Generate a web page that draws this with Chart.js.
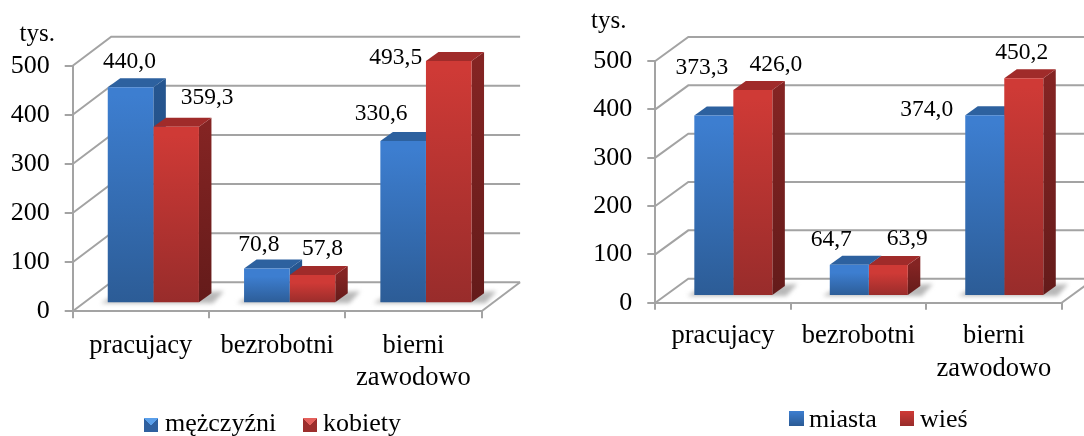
<!DOCTYPE html>
<html>
<head>
<meta charset="utf-8">
<script src="https://cdn.jsdelivr.net/npm/chart.js@4"></script>
<style>
  html, body { margin: 0; padding: 0; background: #fff; }
  body { position: relative; width: 1084px; height: 436px; overflow: hidden; font-family: "Liberation Serif", serif; color: #000; }
  canvas { position: absolute; top: 0; }
  .legend { position: absolute; font-size: 26px; line-height: 28px; white-space: nowrap; }
  .legend span { position: absolute; top: 0; }
  .legend i { position: absolute; display: block; }
</style>
</head>
<body>
<canvas id="left" width="540" height="436" style="left:0"></canvas>
<canvas id="right" width="504" height="436" style="left:580px"></canvas>

<div class="legend" style="left:0;top:409px">
  <i style="left:144px;top:9px;width:14px;height:14px;background:conic-gradient(from -45deg,#5a9fea 0 90deg,#2f609f 90deg 270deg,#2f609f 270deg)"></i>
  <span style="left:165px">mężczyźni</span>
  <i style="left:303px;top:9px;width:14px;height:14px;background:conic-gradient(from -45deg,#e4605c 0 90deg,#9c2e2c 90deg 270deg,#9c2e2c 270deg)"></i>
  <span style="left:323px">kobiety</span>
</div>
<div class="legend" style="left:0;top:405px">
  <i style="left:789px;top:6px;width:15px;height:15px;background:linear-gradient(#3d7ed0,#2a5a94)"></i>
  <span style="left:809px">miasta</span>
  <i style="left:900px;top:6px;width:14px;height:15px;background:linear-gradient(#cf3a36,#982c2b)"></i>
  <span style="left:920px">wieś</span>
</div>

<script>
// dane
const categories = ['pracujacy', 'bezrobotni', ['bierni', 'zawodowo']];
const genderNames = ['mężczyźni', 'kobiety'];
const menValues = [440.0, 70.8, 330.6];
const womenValues = [359.3, 57.8, 493.5];
const placeNames = ['miasta', 'wieś'];
const cityValues = [373.3, 64.7, 374.0];
const villageValues = [426.0, 63.9, 450.2];
const unitLabel = 'tys.';

const FONT = '"Liberation Serif", serif';
const GRID = '#a3a3a3';
const BLUE = { top: '#3d7ed0', bottom: '#2c5c96', cap: '#2d619f', sideTop: '#265690', sideBottom: '#1f4a7c' };
const RED = { top: '#cf3a36', bottom: '#982c2b', cap: '#a02b2a', sideTop: '#842423', sideBottom: '#641b1a' };

function vGradient(ctx, y0, y1, c0, c1) {
  const g = ctx.createLinearGradient(0, y0, 0, y1);
  g.addColorStop(0, c0);
  g.addColorStop(1, c1);
  return g;
}

function poly(ctx, pts, fill) {
  ctx.beginPath();
  pts.forEach((p, i) => i ? ctx.lineTo(p[0], p[1]) : ctx.moveTo(p[0], p[1]));
  ctx.closePath();
  ctx.fillStyle = fill;
  ctx.fill();
}

// sciany i cienie, boki slupkow, etykiety
function depthPlugin(o) {
  return {
    id: 'depth',
    beforeDatasetsDraw(chart) {
      const { ctx, chartArea, scales } = chart;
      const { left, right, bottom } = chartArea;
      const wx = o.wall[0], wy = o.wall[1];
      ctx.save();
      ctx.strokeStyle = GRID;
      ctx.lineWidth = 2;
      scales.y.ticks.forEach(t => {
        const y = scales.y.getPixelForValue(t.value);
        ctx.beginPath();
        ctx.moveTo(left, y);
        ctx.lineTo(left + wx, y + wy);
        ctx.lineTo(right + wx, y + wy);
        ctx.stroke();
      });
      ctx.beginPath();
      ctx.moveTo(right, bottom);
      ctx.lineTo(right + wx, bottom + wy);
      ctx.stroke();
      ctx.restore();

      // cien na podlodze
      ctx.save();
      ctx.translate(o.shift[0], o.shift[1]);
      ctx.filter = 'blur(2px)';
      chart.getDatasetMeta(0).data.forEach((bar, i) => {
        const other = chart.getDatasetMeta(1).data[i];
        const x0 = bar.x - bar.width / 2, x1 = other.x + other.width / 2;
        poly(ctx, [[x0 - 7, bar.base + 1], [x0 + 5, bar.base - 6], [x1 + 25, bar.base - 11], [x1 + 14, bar.base + 1]], '#b8b8b8');
      });
      ctx.restore();

      ctx.save();
      ctx.translate(o.shift[0], o.shift[1]);
      // najpierw boki niebieskich, potem czerwonych; przody rysuje Chart.js
      const dx = o.side[0], dy = o.side[1];
      [BLUE, RED].forEach((c, d) => {
        chart.getDatasetMeta(d).data.forEach(bar => {
          const r = bar.x + bar.width / 2, l = bar.x - bar.width / 2;
          poly(ctx, [[r, bar.y], [r + dx, bar.y + dy], [r + dx, bar.base + dy], [r, bar.base]],
            vGradient(ctx, bar.y, bar.base, c.sideTop, c.sideBottom));
          poly(ctx, [[l, bar.y], [l + dx, bar.y + dy], [r + dx, bar.y + dy], [r, bar.y]], c.cap);
        });
      });
    },
    afterDatasetsDraw(chart) {
      const { ctx } = chart;
      ctx.restore();
      ctx.save();
      ctx.fillStyle = '#000';
      ctx.font = '23.5px ' + FONT;
      ctx.textAlign = 'center';
      ctx.textBaseline = 'middle';
      chart.data.datasets.forEach((ds, d) => {
        chart.getDatasetMeta(d).data.forEach((bar, i) => {
          const text = ds.data[i].toFixed(1).replace('.', ',');
          ctx.fillText(text, bar.x + o.shift[0] + o.labelShift[d][i][0], bar.y + o.shift[1] + o.labelShift[d][i][1]);
        });
      });
      ctx.font = '25px ' + FONT;
      ctx.textAlign = 'left';
      ctx.textBaseline = 'alphabetic';
      ctx.fillText(unitLabel, o.unitAt[0], o.unitAt[1]);
      ctx.restore();
    }
  };
}

function barColor(c) {
  return context => {
    const y = context.chart.scales.y;
    if (!y || context.raw === undefined) return c.top;
    const y0 = y.getPixelForValue(context.raw), y1 = y.getPixelForValue(0);
    if (!isFinite(y0) || !isFinite(y1)) return c.top;
    return vGradient(context.chart.ctx, y0 + 8, y1, c.top, c.bottom);
  };
}

function makeChart(id, names, series, o) {
  return new Chart(document.getElementById(id), {
    type: 'bar',
    data: {
      labels: categories,
      datasets: [
        { label: names[0], data: series[0], backgroundColor: barColor(BLUE), clip: false },
        { label: names[1], data: series[1], backgroundColor: barColor(RED), clip: false }
      ]
    },
    plugins: [depthPlugin(o)],
    options: {
      responsive: false,
      animation: false,
      devicePixelRatio: 1,
      layout: { padding: { left: 0, top: o.top, right: o.right, bottom: 0 } },
      datasets: { bar: { categoryPercentage: o.groupWidth, barPercentage: 1, borderWidth: 0 } },
      plugins: { legend: { display: false }, tooltip: { enabled: false } },
      scales: {
        x: {
          afterFit: s => { s.height = o.xHeight; },
          grid: { drawOnChartArea: false, color: GRID, lineWidth: 2, tickLength: 7 },
          border: { color: GRID, width: 2 },
          ticks: { color: '#000', font: { family: FONT, size: 26.5, lineHeight: 1.23 }, padding: o.xPad, maxRotation: 0, autoSkip: false }
        },
        y: {
          min: 0,
          max: 500,
          afterFit: s => { s.width = o.yWidth; },
          grid: { drawOnChartArea: false, color: GRID, lineWidth: 2, tickLength: 8 },
          border: { color: GRID, width: 2 },
          ticks: { color: '#000', font: { family: FONT, size: 26 }, stepSize: 100, padding: 15 }
        }
      }
    }
  });
}

makeChart('left', genderNames, [menValues, womenValues], {
  top: 65.7, right: 58.4, xHeight: 124.7, yWidth: 72.7, xPad: 11, groupWidth: 0.669,
  wall: [38.5, -29], shift: [12.5, -8], side: [12.5, -9], unitAt: [19.5, 41],
  labelShift: [
    [[-1, -25], [-8, -24], [-22, -27]],
    [[31, -29], [10, -26], [-53, -3]]
  ]
});

makeChart('right', placeNames, [cityValues, villageValues], {
  top: 61, right: 22.3, xHeight: 133.3, yWidth: 75.3, xPad: 10, groupWidth: 0.576,
  wall: [33, -24], shift: [10.3, -6.7], side: [12.5, -9], unitAt: [11, 28],
  labelShift: [
    [[-12, -48], [-18, -25], [-58, -5]],
    [[23, -25], [19, -26], [-2, -26]]
  ]
});
</script>
</body>
</html>
